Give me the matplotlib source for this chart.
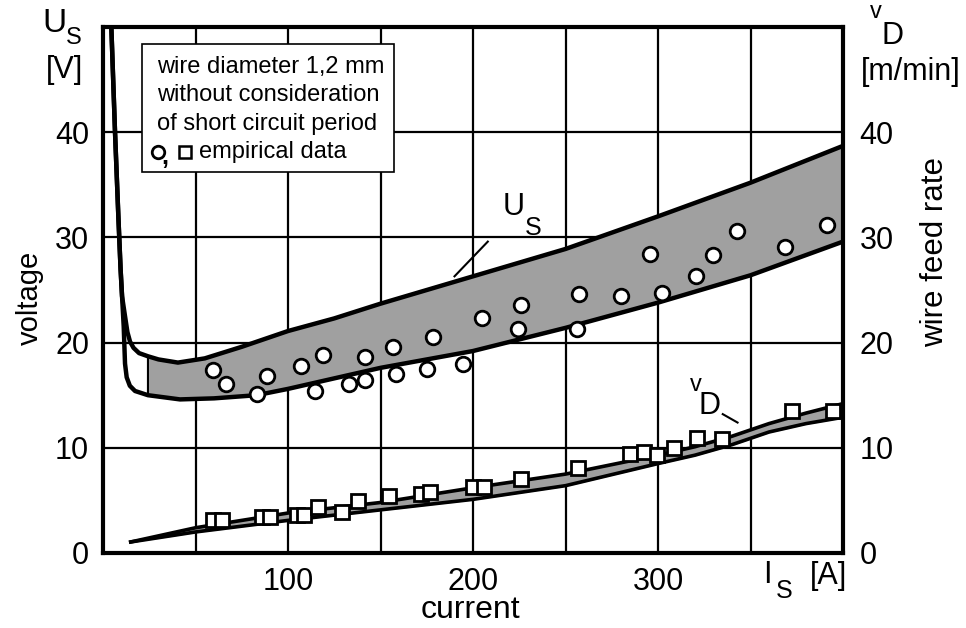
import matplotlib.pyplot as plt
from matplotlib.patches import Rectangle

plt.rcParams['font.family'] = ['Liberation Sans', 'DejaVu Sans']

# U_S band (voltage), upper and lower boundary
us_up_x = [4.5, 6.5, 8.3, 9.5, 10.3, 12.0, 13.2, 14.6, 16.5, 19.5, 24.3, 30, 40.5, 55, 75, 100, 125, 150, 175, 200, 250, 300, 350, 400]
us_up_y = [50, 40, 32, 27, 24.4, 22.4, 21.0, 20.1, 19.5, 19.0, 18.7, 18.4, 18.1, 18.5, 19.6, 21.1, 22.3, 23.7, 25.0, 26.3, 28.9, 32.0, 35.2, 38.7]
us_lo_x = [4.5, 6.5, 8.3, 9.5, 10.3, 11.2, 11.9, 12.8, 14.5, 17.3, 24.3, 41.6, 60, 83, 100, 125, 150, 200, 250, 300, 350, 400]
us_lo_y = [50, 40, 32, 27, 24.4, 21.5, 18.0, 16.7, 15.9, 15.4, 15.0, 14.6, 14.7, 15.0, 15.6, 16.6, 17.6, 19.2, 21.4, 23.8, 26.4, 29.6]
band_start = 24.3

# v_D band (wire feed rate)
vd_x = [15, 50, 100, 150, 200, 250, 300, 320, 340, 360, 380, 400]
vd_up = [1.05, 2.4, 3.8, 4.8, 6.2, 7.5, 9.3, 10.1, 11.1, 12.3, 13.3, 14.2]
vd_lo = [1.05, 2.0, 3.1, 4.1, 5.1, 6.4, 8.5, 9.3, 10.3, 11.5, 12.3, 12.9]

# empirical data
circ_x = [59.5, 66.5, 83.2, 88.6, 107.0, 114.6, 118.9, 133.0, 141.6, 141.6, 156.8, 158.4, 178.4, 175.1,
          194.6, 204.9, 224.3, 225.9, 256.2, 257.3, 280.0, 295.7, 302.2, 320.5, 329.7, 342.7, 368.6, 391.4]
circ_y = [17.4, 16.1, 15.1, 16.8, 17.8, 15.4, 18.8, 16.1, 18.6, 16.4, 19.6, 17.0, 20.5, 17.5,
          18.0, 22.3, 21.3, 23.6, 21.3, 24.6, 24.4, 28.4, 24.7, 26.3, 28.3, 30.6, 29.1, 31.2]
sq_x = [59.5, 64.3, 85.9, 90.3, 104.9, 108.6, 116.2, 129.2, 137.8, 154.6, 171.9, 176.8, 200, 205.9,
        225.9, 256.8, 284.9, 292.4, 299.5, 308.6, 321.1, 334.6, 372.4, 394.6]
sq_y = [3.1, 3.1, 3.4, 3.4, 3.6, 3.6, 4.4, 3.9, 4.9, 5.4, 5.6, 5.8, 6.3, 6.3,
        7.0, 8.1, 9.4, 9.6, 9.3, 10.0, 10.9, 10.8, 13.5, 13.5]

note_lines = ['wire diameter 1,2 mm', 'without consideration', 'of short circuit period']

W, H = 966, 628
fig = plt.figure(figsize=(W / 100, H / 100), dpi=100)
ax = fig.add_axes([103 / W, 1 - 553 / H, 740 / W, 526 / H])
ax.set_xlim(0, 400)
ax.set_ylim(0, 50)

ax.set_xticks(range(50, 400, 50))
ax.set_xticklabels(['', '100', '', '200', '', '300', ''])
ax.set_yticks([0, 10, 20, 30, 40])
ax.tick_params(length=0, labelsize=22, pad=10)
ax.grid(color='black', lw=1.6)
ax.set_axisbelow(True)
for s in ax.spines.values():
    s.set_linewidth(3)

ax2 = ax.twinx()
ax2.set_ylim(0, 50)
ax2.set_yticks([0, 10, 20, 30, 40])
ax2.tick_params(length=0, labelsize=22, pad=12)
for s in ax2.spines.values():
    s.set_visible(False)

# U_S band fill
px = [x for x in us_up_x if x >= band_start] + [x for x in us_lo_x if x >= band_start][::-1]
py = [y for x, y in zip(us_up_x, us_up_y) if x >= band_start] + \
     [y for x, y in zip(us_lo_x, us_lo_y) if x >= band_start][::-1]
ax.fill(px, py, facecolor='#a0a0a0', edgecolor='black', lw=1.5, zorder=2)
ax.plot(us_up_x, us_up_y, color='black', lw=3.2, zorder=3, solid_capstyle='butt', solid_joinstyle='round')
ax.plot(us_lo_x, us_lo_y, color='black', lw=3.2, zorder=3, solid_capstyle='butt', solid_joinstyle='round')

# v_D band
ax.fill_between(vd_x, vd_lo, vd_up, color='#a0a0a0', zorder=2)
ax.plot(vd_x, vd_up, color='black', lw=2.6, zorder=3, solid_joinstyle='round')
ax.plot(vd_x, vd_lo, color='black', lw=2.6, zorder=3, solid_joinstyle='round')

ax.plot(circ_x, circ_y, 'o', ms=10.5, mfc='white', mec='black', mew=2, zorder=5, clip_on=False)
ax.plot(sq_x, sq_y, 's', ms=9.5, mfc='white', mec='black', mew=2, zorder=5, clip_on=False)

# note box
ax.add_patch(Rectangle((21.1, 36.2), 136.2, 12.2, facecolor='white', edgecolor='black', lw=1.2, zorder=6))
for i, t in enumerate(note_lines):
    ax.text(29.0, 46.2 - 2.7 * i, t, fontsize=17, va='center', ha='left', zorder=7)
ax.plot([29.5], [38.1], 'o', ms=9, mfc='white', mec='black', mew=2, zorder=7)
ax.text(31.5, 37.6, ',', fontsize=18, fontweight='bold', va='center', zorder=7)
ax.plot([44.5], [38.1], 's', ms=9, mfc='white', mec='black', mew=1.8, zorder=7)
ax.text(52.0, 38.1, 'empirical data', fontsize=17, va='center', ha='left', zorder=7)

# curve labels with pointers
ax.text(216, 32.9, 'U', fontsize=22, ha='left', va='center')
ax.text(228, 30.9, 'S', fontsize=18, ha='left', va='center')
ax.plot([190, 208], [26.3, 29.6], color='black', lw=1.5)
ax.text(317, 16.0, 'v', fontsize=17, ha='left', va='center')
ax.text(322, 14.0, 'D', fontsize=22, ha='left', va='center')
ax.plot([335, 343], [13.2, 12.4], color='black', lw=1.5)

# axis titles
def ftext(x, y, s, **kw):
    fig.text(x / W, 1 - y / H, s, **kw)

ftext(54, 23, 'U', fontsize=24, ha='center', va='center')
ftext(74, 38, 'S', fontsize=17, ha='center', va='center')
ftext(65, 70, '[V]', fontsize=22, ha='center', va='center')
ftext(30, 298, 'voltage', fontsize=21, rotation=90, ha='center', va='center')
ftext(876, 12, 'v', fontsize=17, ha='center', va='center')
ftext(893, 36, 'D', fontsize=22, ha='center', va='center')
ftext(911, 72, '[m/min]', fontsize=22, ha='center', va='center')
ftext(935, 252, 'wire feed rate', fontsize=22.5, rotation=90, ha='center', va='center')
ftext(470, 610, 'current', fontsize=23, ha='center', va='center')
ftext(767, 575, 'I', fontsize=22, ha='center', va='center')
ftext(784, 591, 'S', fontsize=18, ha='center', va='center')
ftext(828, 576, '[A]', fontsize=22, ha='center', va='center')

fig.savefig('out.png', dpi=100)
